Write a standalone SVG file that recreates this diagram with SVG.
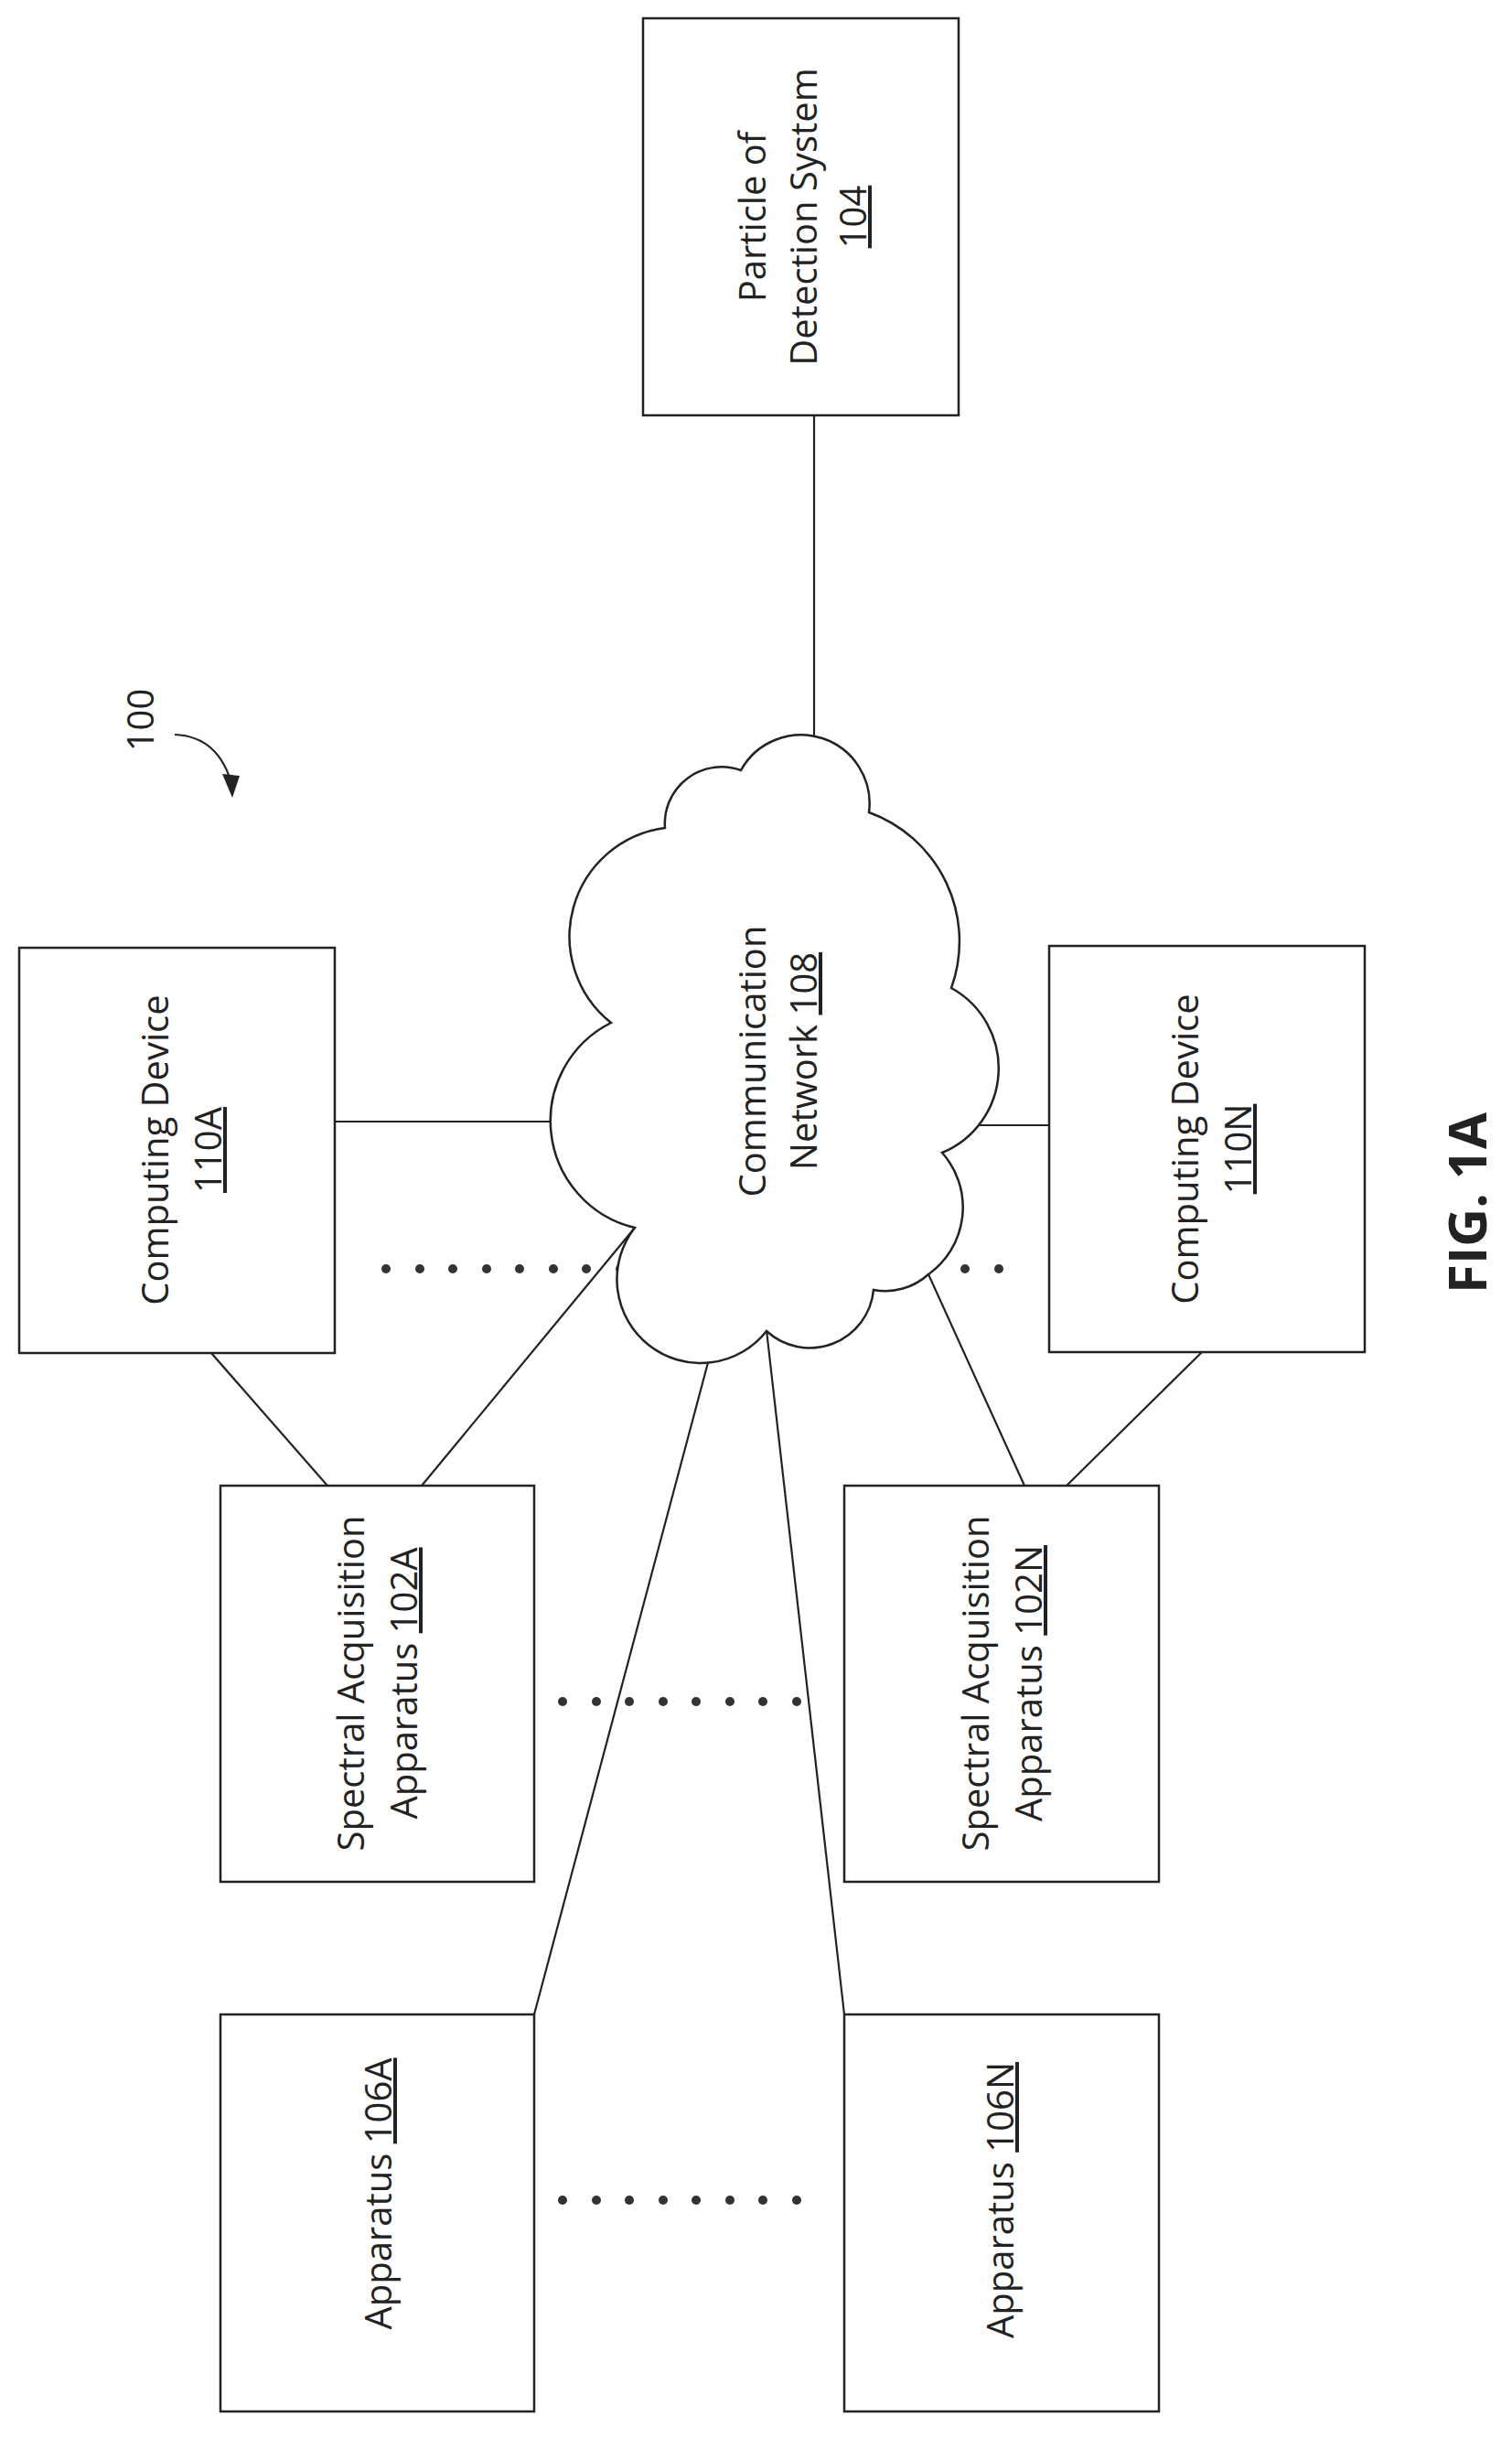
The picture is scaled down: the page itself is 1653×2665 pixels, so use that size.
<svg xmlns="http://www.w3.org/2000/svg" width="1653" height="2665" viewBox="0 0 1653 2665">
<style>
.b{fill:#fff;stroke:#222;stroke-width:2.5}
.l{stroke:#222;stroke-width:2.2;fill:none}
.t{font-family:"Open Sans","Liberation Sans",sans-serif;font-size:40px;fill:#222;text-anchor:middle}
.u{text-decoration:underline}
.d{fill:#333}
</style>
<rect width="1653" height="2665" fill="#fff"/>
<g id="connectors">
<line class="l" x1="890" y1="454" x2="890" y2="818"/>
<line class="l" x1="366" y1="1226" x2="636" y2="1226"/>
<line class="l" x1="1055" y1="1230" x2="1147" y2="1230"/>
<line class="l" x1="231" y1="1479" x2="358" y2="1624"/>
<line class="l" x1="461" y1="1624" x2="694" y2="1342"/>
<line class="l" x1="1120" y1="1624" x2="1015" y2="1393"/>
<line class="l" x1="1166" y1="1624" x2="1314" y2="1478"/>
<line class="l" x1="584" y1="2202" x2="780" y2="1467"/>
<line class="l" x1="923" y1="2202" x2="838" y2="1454"/>
</g>
<g id="dots" class="d">
<circle cx="422" cy="1387" r="5"/><circle cx="459" cy="1387" r="5"/><circle cx="495" cy="1387" r="5"/><circle cx="532" cy="1387" r="5"/><circle cx="568" cy="1387" r="5"/><circle cx="605" cy="1387" r="5"/><circle cx="641" cy="1387" r="5"/><circle cx="678" cy="1387" r="5"/>
<circle cx="1055" cy="1387" r="5"/><circle cx="1092" cy="1387" r="5"/>
<circle cx="615" cy="1860" r="5"/><circle cx="652" cy="1860" r="5"/><circle cx="688" cy="1860" r="5"/><circle cx="725" cy="1860" r="5"/><circle cx="761" cy="1860" r="5"/><circle cx="798" cy="1860" r="5"/><circle cx="834" cy="1860" r="5"/><circle cx="871" cy="1860" r="5"/>
<circle cx="615" cy="2405" r="5"/><circle cx="652" cy="2405" r="5"/><circle cx="688" cy="2405" r="5"/><circle cx="725" cy="2405" r="5"/><circle cx="761" cy="2405" r="5"/><circle cx="798" cy="2405" r="5"/><circle cx="834" cy="2405" r="5"/><circle cx="871" cy="2405" r="5"/>
</g>
<g id="n104">
<rect class="b" x="703" y="20" width="345" height="434"/>
<text class="t" transform="translate(837,237) rotate(-90)">Particle of</text>
<text class="t" transform="translate(893,237) rotate(-90)">Detection System</text>
<text class="t u" transform="translate(947,237) rotate(-90)">104</text>
</g>
<g id="label100">
<text class="t" transform="translate(168,787) rotate(-90)">100</text>
<path class="l" d="M191,803 Q240,805 254,860"/>
<path d="M254,872 L243,846 L262,848 Z" fill="#222"/>
</g>
<g id="n108">
<path class="b" d="M668,1118 A120,120 0 0 1 727,905 A62,62 0 0 1 810,842 A75,75 0 0 1 950,888 A150,150 0 0 1 1040,1080 A100,100 0 0 1 1030,1260 A90,90 0 0 1 1015,1393 A70,70 0 0 1 955,1410 A70,70 0 0 1 838,1455 A85,85 0 0 1 694,1342 A120,120 0 0 1 668,1118 Z"/>
<text class="t" transform="translate(837,1160) rotate(-90)">Communication</text>
<text class="t" transform="translate(893,1160) rotate(-90)">Network <tspan class="u">108</tspan></text>
</g>
<g id="n110A">
<rect class="b" x="21" y="1036" width="345" height="443"/>
<text class="t" transform="translate(184,1257) rotate(-90)">Computing Device</text>
<text class="t u" transform="translate(242,1257) rotate(-90)">110A</text>
</g>
<g id="n110N">
<rect class="b" x="1147" y="1034" width="345" height="444"/>
<text class="t" transform="translate(1310,1256) rotate(-90)">Computing Device</text>
<text class="t u" transform="translate(1368,1256) rotate(-90)">110N</text>
</g>
<g id="n102A">
<rect class="b" x="241" y="1624" width="343" height="433"/>
<text class="t" transform="translate(398,1840) rotate(-90)">Spectral Acquisition</text>
<text class="t" transform="translate(456,1840) rotate(-90)">Apparatus <tspan class="u">102A</tspan></text>
</g>
<g id="n102N">
<rect class="b" x="923" y="1624" width="344" height="433"/>
<text class="t" transform="translate(1081,1840) rotate(-90)">Spectral Acquisition</text>
<text class="t" transform="translate(1139,1840) rotate(-90)">Apparatus <tspan class="u">102N</tspan></text>
</g>
<g id="n106A">
<rect class="b" x="241" y="2202" width="343" height="434"/>
<text class="t" transform="translate(428,2398) rotate(-90)">Apparatus <tspan class="u">106A</tspan></text>
</g>
<g id="n106N">
<rect class="b" x="923" y="2202" width="344" height="434"/>
<text class="t" transform="translate(1108,2405) rotate(-90)">Apparatus <tspan class="u">106N</tspan></text>
</g>
<text transform="translate(1625,1315) rotate(-90)" style="font-family:'Open Sans','Liberation Sans',sans-serif;font-size:58px;font-weight:bold;fill:#222;text-anchor:middle">FIG. 1A</text>
</svg>
